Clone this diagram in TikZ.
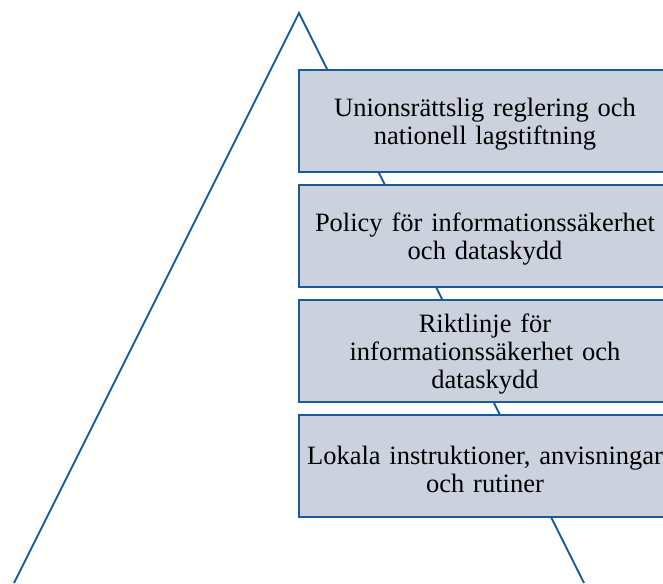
\documentclass[tikz,border=0pt]{standalone}
\usepackage{fontspec}
\setmainfont{Liberation Serif}
\definecolor{pyrblue}{HTML}{1A5A96}
\definecolor{pyrfill}{HTML}{CBD1DD}
\tikzset{
    levelbox/.style={draw=pyrblue, line width=2.4pt, fill=pyrfill, minimum width=372pt, minimum height=102pt, text width=366pt, align=center, inner sep=0pt, font=\fontsize{26.5}{28}\selectfont, execute at begin node={\rule{0pt}{25pt}}}
}
\begin{document}
\begin{tikzpicture}[x=1pt, y=-1pt]

        \pgfmathsetmacro{\boxx}{485};
        \pgfmathsetmacro{\boxy}{121};
        \pgfmathsetmacro{\gap}{115};

        \useasboundingbox (0,0) rectangle (663,583);
        \clip (0,0) rectangle (663,583);

        % the pyramid behind the boxes
        \draw [pyrblue, line width=2pt] (14,583) -- (299,13) -- (584,583);

        \node (lag) at (\boxx,\boxy) [levelbox] {Unionsrättslig reglering och\\nationell lagstiftning};
        \node (policy) at (\boxx,\boxy+\gap) [levelbox] {Policy för informationssäkerhet\\och dataskydd};
        \node (riktlinje) at (\boxx,\boxy+2*\gap) [levelbox] {Riktlinje för\\informationssäkerhet och\\dataskydd};
        \node (lokala) at (\boxx,\boxy+3*\gap) [levelbox] {Lokala instruktioner, anvisningar\\och rutiner};

\end{tikzpicture}
\end{document}
